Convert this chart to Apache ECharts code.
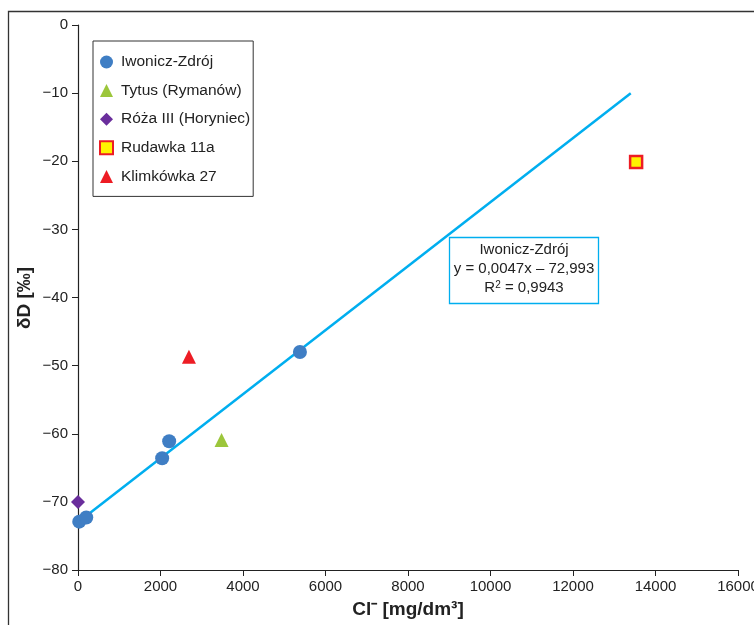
<!DOCTYPE html>
<html><head><meta charset="utf-8">
<script src="https://cdn.jsdelivr.net/npm/echarts@6/dist/echarts.min.js"></script>
<style>html,body{margin:0;padding:0;background:#fff}#c{width:754px;height:625px}</style>
</head><body><div id="c"></div>
<script>
// ---- data (Cl- mg/dm3, deltaD permil) ----
var iwoniczX = [30, 200, 2040, 2210, 5380];
var iwoniczY = [-72.9, -72.3, -63.6, -61.1, -48.0];
var tytusX = [3480];
var tytusY = [-60.9];
var rozaX = [0];
var rozaY = [-70.0];
var rudawkaX = [13530];
var rudawkaY = [-20.1];
var klimkowkaX = [2690];
var klimkowkaY = [-48.7];
var trendSlope = 0.0047;
var trendIntercept = -72.993;
var trendX = [0, 13400];
var xTicks = [0, 2000, 4000, 6000, 8000, 10000, 12000, 14000, 16000];
var yTicks = [0, -10, -20, -30, -40, -50, -60, -70, -80];

function pairs(xs, ys){ return xs.map(function(x,i){ return [x, ys[i]]; }); }
var trendData = trendX.map(function(x){ return [x, trendSlope*x + trendIntercept]; });

var FONT = "'Liberation Sans', Arial, sans-serif";
var chart = echarts.init(document.getElementById('c'));
chart.setOption({
  animation: false,
  textStyle: {fontFamily: FONT},
  grid: {left: 78, right: 16, top: 25, bottom: 55, containLabel: false, outerBoundsMode: 'none'},
  xAxis: {
    type: 'value', min: xTicks[0], max: xTicks[xTicks.length-1], interval: 2000,
    axisLine: {onZero: false, lineStyle: {color: '#222', width: 1.2}},
    axisTick: {show: true, length: 6, lineStyle: {color: '#222'}},
    axisLabel: {color: '#222', fontSize: 15, fontFamily: FONT, margin: 9,
      formatter: function(v){ return String(v); }},
    splitLine: {show: false},
    name: 'Cl\u207B [mg/dm\u00B3]', nameLocation: 'middle', nameGap: 30,
    nameTextStyle: {fontSize: 19, fontWeight: 'bold', color: '#222', fontFamily: FONT}
  },
  yAxis: {
    type: 'value', min: yTicks[yTicks.length-1], max: yTicks[0], interval: 10,
    axisLine: {show: true, onZero: false, lineStyle: {color: '#222', width: 1.2}},
    axisTick: {show: true, length: 6, lineStyle: {color: '#222'}},
    axisLabel: {color: '#222', fontSize: 15, fontFamily: FONT, margin: 10,
      formatter: function(v){ return v < 0 ? '\u2212' + Math.abs(v) : String(v); }},
    splitLine: {show: false}
  },
  legend: {
    orient: 'vertical', left: 93, top: 41,
    padding: [12, 3, 11, 6], itemGap: 10.6,
    itemWidth: 13, itemHeight: 13,
    borderColor: '#333', borderWidth: 1, backgroundColor: '#fff',
    textStyle: {fontSize: 15.5, color: '#222', fontFamily: FONT, lineHeight: 18, padding: [0,0,0,3]},
    data: ['Iwonicz-Zdrój', 'Tytus (Rymanów)', 'Róża III (Horyniec)', 'Rudawka 11a', 'Klimkówka 27']
  },
  series: [
    {name: 'trend', type: 'line', data: trendData, symbol: 'none', z: 1,
     lineStyle: {color: '#00aeef', width: 2.5}, silent: true},
    {name: 'Iwonicz-Zdrój', type: 'scatter', data: pairs(iwoniczX, iwoniczY), symbol: 'circle', symbolSize: 14,
     itemStyle: {color: '#3f7ec4', opacity: 1}, z: 3},
    {name: 'Tytus (Rymanów)', type: 'scatter', data: pairs(tytusX, tytusY), symbol: 'triangle', symbolSize: 14,
     itemStyle: {color: '#9cc63b', opacity: 1}, z: 3},
    {name: 'Róża III (Horyniec)', type: 'scatter', data: pairs(rozaX, rozaY), symbol: 'diamond', symbolSize: 14,
     itemStyle: {color: '#6a2e9c', opacity: 1}, z: 3},
    {name: 'Rudawka 11a', type: 'scatter', data: pairs(rudawkaX, rudawkaY), symbol: 'rect', symbolSize: 12,
     itemStyle: {color: '#fff200', borderColor: '#ed1c24', borderWidth: 2.5, opacity: 1}, z: 3},
    {name: 'Klimkówka 27', type: 'scatter', data: pairs(klimkowkaX, klimkowkaY), symbol: 'triangle', symbolSize: 14,
     itemStyle: {color: '#ed1c24', opacity: 1}, z: 3}
  ],
  graphic: [
    {type: 'rect', z: -1, shape: {x: 8.5, y: 11.5, width: 760, height: 640},
     style: {fill: 'none', stroke: '#333', lineWidth: 1.3}},
    {type: 'text', z: 5, x: 25, y: 298, rotation: Math.PI / 2,
     style: {text: '\u03B4D [\u2030]', fontSize: 19, fontWeight: 'bold', fontFamily: FONT, fill: '#222', align: 'center', verticalAlign: 'middle'}},
    {type: 'rect', z: 10, shape: {x: 449.5, y: 237.5, width: 149, height: 66},
     style: {fill: '#fff', stroke: '#00aeef', lineWidth: 1.3}},
    {type: 'text', z: 11, x: 524, y: 250, style: {text: 'Iwonicz-Zdrój', fontSize: 15, fontFamily: FONT, fill: '#222', align: 'center', verticalAlign: 'middle'}},
    {type: 'text', z: 11, x: 524, y: 269, style: {text: 'y = 0,0047x \u2013 72,993', fontSize: 15, fontFamily: FONT, fill: '#222', align: 'center', verticalAlign: 'middle'}},
    {type: 'text', z: 11, x: 524, y: 288, style: {
      text: '{n|R}{s|2}{n| = 0,9943}', align: 'center', verticalAlign: 'middle', fill: '#222',
      rich: {n: {fontSize: 15, fontFamily: FONT, fill: '#222', verticalAlign: 'bottom'},
             s: {fontSize: 10, fontFamily: FONT, fill: '#222', verticalAlign: 'top'}}}}
  ]
});
</script></body></html>
